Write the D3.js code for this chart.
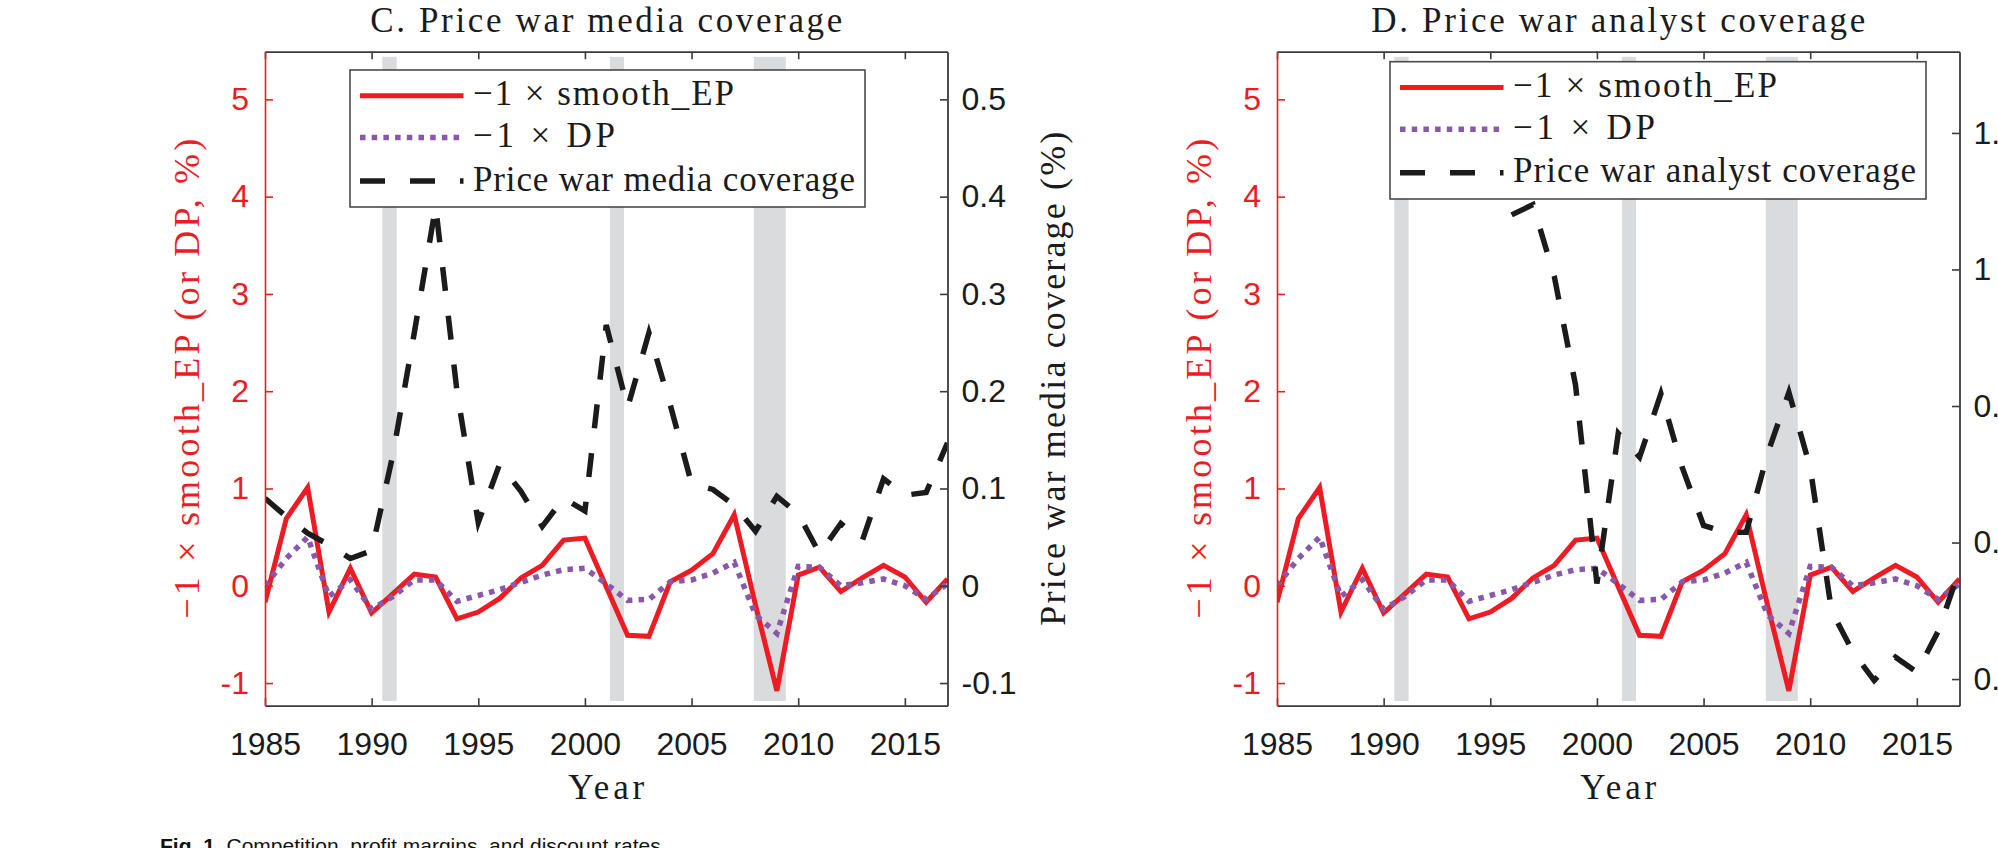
<!DOCTYPE html>
<html><head><meta charset="utf-8">
<script src="https://cdn.jsdelivr.net/npm/d3@7"></script>
<style>body{margin:0;background:#fff}svg{display:block}</style>
</head><body>
<svg id="chart" width="1998" height="848"></svg>
<script>
// ---------------- data ----------------
const years = [1985,1986,1987,1988,1989,1990,1991,1992,1993,1994,1995,1996,1997,1998,1999,2000,
               2001,2002,2003,2004,2005,2006,2007,2008,2009,2010,2011,2012,2013,2014,2015,2016,2017];
// -1 x smooth_EP (%)
const smoothEP = [-0.17,0.69,1.01,-0.27,0.18,-0.28,-0.08,0.12,0.09,-0.34,-0.27,-0.13,0.08,0.21,0.47,0.49,
                  -0.01,-0.51,-0.52,0.04,0.16,0.33,0.73,-0.20,-1.08,0.11,0.19,-0.06,0.08,0.21,0.09,-0.17,0.07];
// -1 x DP (%)
const dp = [0.00,0.28,0.50,-0.11,0.06,-0.24,-0.11,0.06,0.06,-0.16,-0.10,-0.04,0.035,0.11,0.165,0.18,
            0.02,-0.15,-0.14,0.04,0.06,0.13,0.24,-0.30,-0.49,0.20,0.19,0.00,0.03,0.07,0.00,-0.14,0.02];
// Price war media coverage (%)
const mediaCoverage = [0.090,0.071,0.054,0.042,0.028,0.036,0.135,0.260,0.390,0.200,0.065,0.125,0.097,0.061,0.090,0.077,
                       0.268,0.183,0.260,0.186,0.105,0.099,0.083,0.056,0.092,0.074,0.033,0.064,0.046,0.110,0.093,0.096,0.147];
// Price war analyst coverage (%)
const analystYears = [1996,1997,1998,1999,2000,2001,2002,2003,2004,2005,2006,2007,2008,2009,2010,2011,2012,2013,2014,2015,2016,2017];
const analystCoverage = [1.080,1.095,0.990,0.830,0.540,0.760,0.725,0.818,0.710,0.625,0.615,0.615,0.730,0.820,0.710,0.500,
                         0.440,0.398,0.432,0.410,0.470,0.560];
// NBER recessions
const recessionStart = [1990.5, 2001.17, 2007.92];
const recessionEnd   = [1991.17, 2001.83, 2009.42];
// ticks
const xTicks = [1985,1990,1995,2000,2005,2010,2015];
const leftTicks = [-1,0,1,2,3,4,5];
const mediaTicks = [-0.1,0,0.1,0.2,0.3,0.4,0.5];
const analystTicks = [0.4,0.6,0.8,1,1.2];
const xDomain = [1985, 2017];
const leftDomain = [-1.233, 5.49];
const mediaDomain = [-0.1233, 0.549];
const analystDomain = [0.361, 1.319];
const bandRange = [-1.185, 5.437];

// ---------------- style ----------------
const RED = "#ED1C24", PURPLE = "#8A58AA", BLACK = "#1b1b1b", AXIS = "#3a3a3a", BAND = "#dadbdd";
const SERIF = "'Liberation Serif', 'Times New Roman', serif";
const SANS = "'Liberation Sans', Arial, sans-serif";
const TOP = 51.7, BOTTOM = 705.7, PW = 682.5;

const svg = d3.select("#chart");

const panels = [
  {key:"C", left:265, title:"C. Price war media coverage", titleW:472,
   rYears: years, rVals: mediaCoverage, rDomain: mediaDomain, rTicks: mediaTicks,
   rLabel: "Price war media coverage (%)", rLabelW: 494,
   legendText: ["\u22121 \u00d7 smooth_EP", "\u22121 \u00d7 DP", "Price war media coverage"],
   legendW: [261,142,382], legendBox:{x:350, y:70, w:515, h:137}},
  {key:"D", left:1277, title:"D. Price war analyst coverage", titleW:494,
   rYears: analystYears, rVals: analystCoverage, rDomain: analystDomain, rTicks: analystTicks,
   rLabel: null, rLabelW: 0,
   legendText: ["\u22121 \u00d7 smooth_EP", "\u22121 \u00d7 DP", "Price war analyst coverage"],
   legendW: [264,142,403], legendBox:{x:1390, y:61.7, w:536, h:137.3}}
];

function fmt(v){ return String(+v.toFixed(2)); }

function styleAxis(a, color, dark) {
  a.attr("font-family", SANS).attr("font-size", 32);
  a.select(".domain").attr("stroke", color).attr("stroke-width", dark ? 1.8 : 1.6);
  a.selectAll(".tick line").attr("stroke", color).attr("stroke-width", 1.6);
  a.selectAll(".tick text").attr("fill", color === RED ? RED : BLACK);
}

panels.forEach((p) => {
  const x = d3.scaleLinear().domain(xDomain).range([p.left, p.left + PW]);
  const yL = d3.scaleLinear().domain(leftDomain).range([BOTTOM, TOP]);
  const yR = d3.scaleLinear().domain(p.rDomain).range([BOTTOM, TOP]);
  const g = svg.append("g");

  const clipId = "clip" + p.key;
  svg.append("clipPath").attr("id", clipId).append("rect")
    .attr("x", p.left).attr("y", TOP).attr("width", PW).attr("height", BOTTOM - TOP);

  // recession bands
  g.append("g").selectAll("rect").data(recessionStart).join("rect")
    .attr("x", (d) => x(d))
    .attr("width", (d, j) => x(recessionEnd[j]) - x(d))
    .attr("y", yL(bandRange[1]))
    .attr("height", yL(bandRange[0]) - yL(bandRange[1]))
    .attr("fill", BAND);

  const plot = g.append("g").attr("clip-path", `url(#${clipId})`);
  const lineL = d3.line().x((d, j) => x(years[j])).y(d => yL(d));
  plot.append("path").datum(smoothEP).attr("d", lineL)
    .attr("fill", "none").attr("stroke", RED).attr("stroke-width", 5).attr("stroke-linejoin", "miter");
  plot.append("path").datum(dp).attr("d", lineL)
    .attr("fill", "none").attr("stroke", PURPLE).attr("stroke-width", 5.5)
    .attr("stroke-dasharray", "5.5 6.2");
  const lineR = d3.line().x((d, j) => x(p.rYears[j])).y(d => yR(d));
  plot.append("path").datum(p.rVals).attr("d", lineR)
    .attr("fill", "none").attr("stroke", BLACK).attr("stroke-width", 5.5)
    .attr("stroke-dasharray", "24 25");

  // axes
  const ax = g.append("g");
  const bottom = ax.append("g").attr("transform", `translate(0,${BOTTOM})`)
    .call(d3.axisBottom(x).tickValues(xTicks).tickFormat(d3.format("d")).tickSize(-7.5).tickSizeOuter(0));
  styleAxis(bottom, AXIS, true);
  bottom.selectAll(".tick text").attr("y", 49.3).attr("dy", null);
  const top = ax.append("g").attr("transform", `translate(0,${TOP})`)
    .call(d3.axisTop(x).tickValues(xTicks).tickFormat("").tickSize(-7.5).tickSizeOuter(0));
  styleAxis(top, AXIS, true);

  const left = ax.append("g").attr("transform", `translate(${p.left},0)`)
    .call(d3.axisLeft(yL).tickValues(leftTicks).tickFormat(fmt).tickSize(-8).tickPadding(16).tickSizeOuter(0));
  styleAxis(left, RED, false);

  const right = ax.append("g").attr("transform", `translate(${p.left + PW},0)`)
    .call(d3.axisRight(yR).tickValues(p.rTicks).tickFormat(fmt).tickSize(-7.5).tickPadding(14).tickSizeOuter(0));
  styleAxis(right, AXIS, true);

  // title
  g.append("text").attr("x", p.left + PW / 2).attr("y", 31.7)
    .attr("text-anchor", "middle").attr("font-family", SERIF).attr("font-size", 35)
    .attr("fill", BLACK).attr("textLength", p.titleW).attr("lengthAdjust", "spacing")
    .text(p.title);
  // x label
  g.append("text").attr("x", p.left + PW / 2).attr("y", 799)
    .attr("text-anchor", "middle").attr("font-family", SERIF).attr("font-size", 35)
    .attr("fill", BLACK).attr("textLength", 76).attr("lengthAdjust", "spacing").text("Year");
  // left y label
  g.append("text").attr("transform", `translate(${p.left - 66},${(TOP + BOTTOM) / 2}) rotate(-90)`)
    .attr("text-anchor", "middle").attr("font-family", SERIF).attr("font-size", 36)
    .attr("fill", RED).attr("textLength", 480).attr("lengthAdjust", "spacing")
    .text("\u22121 \u00d7 smooth_EP (or DP, %)");
  // right y label
  if (p.rLabel) {
    g.append("text").attr("transform", `translate(${p.left + PW + 117},${(TOP + BOTTOM) / 2}) rotate(-90)`)
      .attr("text-anchor", "middle").attr("font-family", SERIF).attr("font-size", 36)
      .attr("fill", BLACK).attr("textLength", p.rLabelW).attr("lengthAdjust", "spacing")
      .text(p.rLabel);
  }

  // legend
  const b = p.legendBox;
  const lg = g.append("g").attr("transform", `translate(${b.x},${b.y})`);
  lg.append("rect").attr("width", b.w).attr("height", b.h)
    .attr("fill", "#fff").attr("stroke", "#4a4a4a").attr("stroke-width", 1.6);
  const rowY = [25.7, 67.5, 111];
  const rowStroke = [RED, PURPLE, BLACK];
  const rowDash = [null, "5.5 6.2", "25 25"];
  const rowW = [5, 5.5, 5.5];
  rowY.forEach((ry, k) => {
    lg.append("line").attr("x1", 10).attr("x2", 113.5).attr("y1", ry).attr("y2", ry)
      .attr("stroke", rowStroke[k]).attr("stroke-width", rowW[k])
      .attr("stroke-dasharray", rowDash[k]);
    lg.append("text").attr("x", 123).attr("y", ry + 9.5)
      .attr("font-family", SERIF).attr("font-size", 35).attr("fill", BLACK)
      .attr("textLength", p.legendW[k]).attr("lengthAdjust", "spacing")
      .text(p.legendText[k]);
  });
});

// caption (cut at the bottom edge, as in the reference)
const cap = svg.append("text").attr("x", 160).attr("y", 853)
  .attr("font-family", SANS).attr("font-size", 21).attr("fill", "#111");
cap.append("tspan").attr("font-weight", "bold").text("Fig. 1.");
cap.append("tspan").text(" Competition, profit margins, and discount rates.");
</script>
</body></html>
